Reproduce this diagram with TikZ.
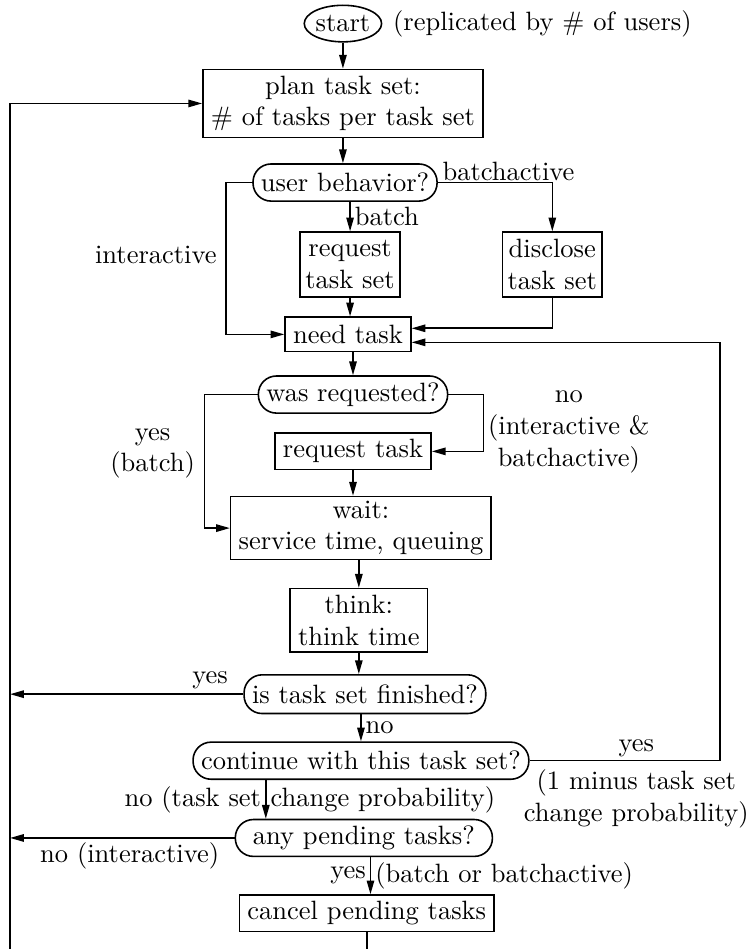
\documentclass[tikz,border=0pt]{standalone}
\usepackage{tikz}
\usetikzlibrary{arrows.meta,positioning,shapes}
\tikzset{
  taskbox/.style={draw, line width=0.6pt, align=center, inner xsep=3pt,
    inner ysep=2.4pt, minimum height=13pt},
  decision/.style={draw, line width=0.6pt, rounded corners=6.8pt,
    inner xsep=3pt, inner ysep=2.4pt, minimum height=14pt},
  flowarr/.style={-{Triangle[length=5.2pt,width=2.8pt]}, line width=0.6pt},
  lbl/.style={inner sep=1.5pt, align=center},
}

\begin{document}
\begin{tikzpicture}
  \useasboundingbox (0,0) rectangle (283.4pt,-358.1pt);
  % left and right return lines
  \coordinate (rail) at (3.8pt,0);
  \coordinate (rrail) at (271.7pt,0);
  \coordinate (loopbot) at (3.8pt,-380pt);

  \node[draw, ellipse, line width=0.6pt, inner sep=0pt, minimum height=13.8pt]
    (start) at (129.4pt,-8.9pt) {start};
  \node[right=0.5pt of start] (repl) {(replicated by \# of users)};
  \node[taskbox, below=9.8pt of start] (plan) {plan task set:\\\# of tasks per task set};
  \node[decision, below=9.4pt of plan, xshift=0.8pt] (user) {user behavior?};
  \node[taskbox, inner xsep=2pt, minimum height=24.5pt, below=11.1pt of user, xshift=1.9pt]
    (reqset) {request\\task set};
  \node[taskbox, inner xsep=2pt, minimum height=24.5pt, right=38pt of reqset]
    (disc) {disclose\\task set};
  \node[taskbox, below=7pt of reqset, xshift=-0.8pt] (need) {need task};
  \node[decision, below=8.6pt of need, xshift=1.9pt] (was) {was requested?};
  \node[taskbox, below=7pt of was] (reqtask) {request task};
  \node[taskbox, inner ysep=1.6pt, below=9.6pt of reqtask, xshift=3pt] (wait) {wait:\\service time, queuing};
  \node[taskbox, below=10.3pt of wait, xshift=-0.8pt] (think) {think:\\think time};
  \node[decision, minimum height=14.6pt, below=8.1pt of think, xshift=2.3pt] (isdone) {is task set finished?};
  \node[decision, below=10.2pt of isdone, xshift=-1.5pt] (cont) {continue with this task set?};
  \node[decision, minimum width=97pt, minimum height=13.2pt, below=14.6pt of cont, xshift=1.1pt] (anyp) {any pending tasks?};
  \node[taskbox, below=14pt of anyp, xshift=1.1pt] (cancel) {cancel pending tasks};

  % main column
  \draw[flowarr] (start) -- (plan);
  \draw[flowarr] (plan) -- (plan |- user.north);
  \draw[flowarr] (user.south -| reqset) -- node[midway, right, lbl] {batch} (reqset);
  \draw[flowarr] (user.east) -| node[pos=0, anchor=base west, lbl, yshift=0.6pt] {batchactive} (disc.north);
  \draw[flowarr] (user.west) -- ++(-9.8pt,0) |- node[pos=0.24, left] {interactive} (need.west);
  \draw[flowarr] (reqset) -- (reqset |- need.north);
  \draw[flowarr] (disc) |- ([yshift=2.3pt]need.east);
  \draw[flowarr] (need.south -| was) -- (was);
  \draw[flowarr] (was.west) -- ++(-20pt,0) |- node[pos=0.22, left, align=center] {yes\\(batch)} (wait.west);
  \draw[flowarr] (was.east) -- ++(13.2pt,0) |- node[pos=0.33, right, lbl] {no\\(interactive \&\\batchactive)} (reqtask.east);
  \draw[flowarr] (reqtask) -- (reqtask |- wait.north);
  \draw[flowarr] (wait.south -| think) -- (think);
  \draw[flowarr] (think) -- (think |- isdone.north);
  \draw[flowarr] (isdone.south -| cont) -- node[midway, right, lbl] {no} (cont);

  % exits to the left return line
  \draw[flowarr] (isdone.west) -- node[pos=0, above left, lbl, xshift=-4pt] {yes} (isdone.west -| rail);
  \draw[flowarr] (anyp.west) -- node[pos=0, below left, lbl, xshift=-4pt] {no (interactive)} (anyp.west -| rail);

  % back to need task
  \draw[flowarr] (cont.east) -- node[pos=0.56, above, inner sep=1pt] {yes}
    node[pos=0.56, below, inner sep=3pt, align=center] {(1 minus task set\\change probability)}
    (cont.east -| rrail) |- ([yshift=-3pt]need.east);

  \draw[flowarr] ([xshift=-35.9pt]cont.south) -- node[midway, left, lbl] {no (task set}
    node[midway, right, lbl] {change probability)} ([xshift=-35.9pt]cont.south |- anyp.north);
  \draw[flowarr] ([xshift=2.5pt]anyp.south) -- node[midway, left, lbl] {yes}
    node[midway, right, lbl] {(batch or batchactive)} ([xshift=2.5pt]anyp.south |- cancel.north);

  % new task set
  \draw[flowarr] (cancel) |- (loopbot) |- (plan.west);
\end{tikzpicture}
\end{document}
